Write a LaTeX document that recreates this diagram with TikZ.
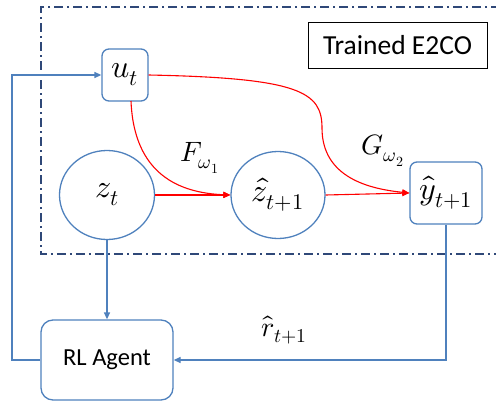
\documentclass[tikz,border=0pt]{standalone}
\usepackage{fontspec}
\usepackage{unicode-math}
\setmainfont{Carlito}
\setmathfont{Latin Modern Math}
\usetikzlibrary{arrows.meta,shapes.geometric}
\definecolor{nodeblue}{RGB}{79,129,189}
\definecolor{dashnavy}{RGB}{47,72,120}
\begin{document}
\begin{tikzpicture}[x=1pt,y=-1pt,
  bluebox/.style={draw=nodeblue,line width=1.3pt,rounded corners=7pt,inner sep=0pt},
  blueell/.style={draw=nodeblue,line width=1.3pt,ellipse,inner sep=0pt},
  bluearrow/.style={draw=nodeblue,line width=1.3pt,-{Triangle[length=7pt,width=6pt]}},
  redarrow/.style={draw=red,line width=1.1pt,-{Triangle[length=7pt,width=6pt]}},
  mathtxt/.style={font=\fontsize{32}{34}\selectfont},
  lbl/.style={font=\fontsize{28}{30}\selectfont}]
\useasboundingbox (0,0) rectangle (496,402);
% dash-dot frame
\draw[dashnavy,line width=1.2pt,dash pattern=on 9pt off 4pt on 2pt off 4pt] (500,7) -- (41,7) -- (41,254) -- (500,254);
\node[draw=black,line width=1pt,minimum width=179pt,minimum height=46pt,inner sep=0pt,font=\fontsize{27.5}{29}\selectfont] (title) at (397.5,45) {Trained E2CO};
\node[bluebox,minimum width=46pt,minimum height=52pt,mathtxt] (u) at (125,75) {$u_t$};
\node[blueell,minimum width=95pt,minimum height=89pt,mathtxt] (z) at (107,195) {$z_t$};
\node[blueell,minimum width=94pt,minimum height=87pt,mathtxt] (zh) at (278,195) {$\hat z_{t+1}$};
\node[bluebox,minimum width=72pt,minimum height=62pt,mathtxt] (y) at (446,193) {$\hat y_{t+1}$};
\node[bluebox,rounded corners=12pt,minimum width=132pt,minimum height=80pt,font=\fontsize{24.5}{26}\selectfont] (rl) at (107,360) {RL Agent};
% red connectors
\draw[redarrow] (z.east) -- (zh.west);
\draw[redarrow] (zh.east) -- (y.west);
\coordinate (us) at (131,101);
\draw[redarrow] (us) .. controls (134,175) and (180,193) .. (zh.west);
\coordinate (mid) at (322,128);
\draw[redarrow] (u.east) .. controls (300,78) and (322,92) .. (mid) .. controls (322,178) and (370,189) .. (y.west);
\node[lbl] (F) at (200,158) {$F_{\omega_1}$};
\node[lbl] (G) at (383,151) {$G_{\omega_2}$};
% blue connectors
\draw[bluearrow] (z.south) -- (rl.north);
\coordinate (yc) at (y.south |- rl.east);
\draw[bluearrow] (y.south) -- (yc) -- (rl.east);
\node[lbl] (r) at (284,330) {$\hat r_{t+1}$};
\coordinate (lc1) at (12,360);
\coordinate (lc2) at (12,75);
\draw[bluearrow] (rl.west) -- (lc1) -- (lc2) -- (u.west);
\end{tikzpicture}
\end{document}
